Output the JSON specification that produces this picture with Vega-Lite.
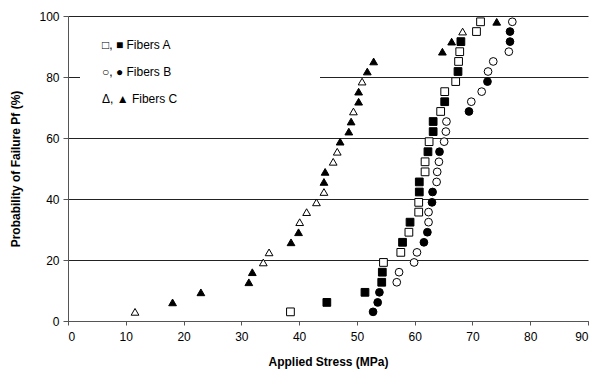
{
  "$schema": "https://vega.github.io/schema/vega-lite/v6.json",
  "width": 520,
  "height": 305,
  "autosize": "none",
  "padding": {"left": 68, "top": 16, "right": 9, "bottom": 56},
  "background": "white",
  "config": {
    "view": {"stroke": null},
    "font": "Liberation Sans",
    "axis": {"labelFont": "Liberation Sans", "titleFont": "Liberation Sans", "labelColor": "black", "titleColor": "black", "labelFontSize": 12, "titleFontSize": 12, "titleFontWeight": "bold", "domainColor": "#555", "tickColor": "#555"}
  },
  "data": {"values": [
    {"fiber":"A","batch":"open","stress":38.5,"prob":3.0},
    {"fiber":"A","batch":"filled","stress":44.8,"prob":6.1},
    {"fiber":"A","batch":"filled","stress":51.4,"prob":9.4},
    {"fiber":"A","batch":"filled","stress":54.3,"prob":12.7},
    {"fiber":"A","batch":"filled","stress":54.4,"prob":16.0},
    {"fiber":"A","batch":"open","stress":54.6,"prob":19.2},
    {"fiber":"A","batch":"open","stress":57.6,"prob":22.5},
    {"fiber":"A","batch":"filled","stress":57.9,"prob":25.8},
    {"fiber":"A","batch":"open","stress":59.0,"prob":29.1},
    {"fiber":"A","batch":"filled","stress":59.2,"prob":32.4},
    {"fiber":"A","batch":"open","stress":60.7,"prob":35.7},
    {"fiber":"A","batch":"open","stress":60.7,"prob":38.9},
    {"fiber":"A","batch":"filled","stress":60.8,"prob":42.3},
    {"fiber":"A","batch":"filled","stress":60.8,"prob":45.6},
    {"fiber":"A","batch":"open","stress":61.8,"prob":48.9},
    {"fiber":"A","batch":"open","stress":61.8,"prob":52.2},
    {"fiber":"A","batch":"filled","stress":62.3,"prob":55.5},
    {"fiber":"A","batch":"open","stress":62.5,"prob":58.8},
    {"fiber":"A","batch":"filled","stress":63.2,"prob":62.1},
    {"fiber":"A","batch":"filled","stress":63.2,"prob":65.4},
    {"fiber":"A","batch":"open","stress":64.5,"prob":68.7},
    {"fiber":"A","batch":"filled","stress":65.2,"prob":71.9},
    {"fiber":"A","batch":"open","stress":65.2,"prob":75.2},
    {"fiber":"A","batch":"open","stress":67.1,"prob":78.5},
    {"fiber":"A","batch":"filled","stress":67.5,"prob":81.8},
    {"fiber":"A","batch":"open","stress":67.6,"prob":85.1},
    {"fiber":"A","batch":"open","stress":67.8,"prob":88.3},
    {"fiber":"A","batch":"filled","stress":68.0,"prob":91.6},
    {"fiber":"A","batch":"open","stress":70.7,"prob":94.9},
    {"fiber":"A","batch":"open","stress":71.4,"prob":98.1},
    {"fiber":"B","batch":"filled","stress":52.8,"prob":3.0},
    {"fiber":"B","batch":"filled","stress":53.6,"prob":6.1},
    {"fiber":"B","batch":"filled","stress":53.9,"prob":9.4},
    {"fiber":"B","batch":"open","stress":56.9,"prob":12.7},
    {"fiber":"B","batch":"open","stress":57.3,"prob":16.0},
    {"fiber":"B","batch":"open","stress":59.9,"prob":19.2},
    {"fiber":"B","batch":"open","stress":60.4,"prob":22.5},
    {"fiber":"B","batch":"filled","stress":61.6,"prob":25.8},
    {"fiber":"B","batch":"filled","stress":62.2,"prob":29.1},
    {"fiber":"B","batch":"open","stress":62.4,"prob":32.4},
    {"fiber":"B","batch":"open","stress":62.4,"prob":35.7},
    {"fiber":"B","batch":"filled","stress":63.0,"prob":38.9},
    {"fiber":"B","batch":"filled","stress":63.1,"prob":42.3},
    {"fiber":"B","batch":"open","stress":63.8,"prob":45.6},
    {"fiber":"B","batch":"open","stress":63.9,"prob":48.9},
    {"fiber":"B","batch":"open","stress":64.2,"prob":52.2},
    {"fiber":"B","batch":"filled","stress":64.3,"prob":55.5},
    {"fiber":"B","batch":"open","stress":65.1,"prob":58.8},
    {"fiber":"B","batch":"open","stress":65.4,"prob":62.1},
    {"fiber":"B","batch":"open","stress":65.5,"prob":65.4},
    {"fiber":"B","batch":"filled","stress":69.4,"prob":68.7},
    {"fiber":"B","batch":"open","stress":69.8,"prob":71.9},
    {"fiber":"B","batch":"open","stress":71.6,"prob":75.2},
    {"fiber":"B","batch":"filled","stress":72.6,"prob":78.5},
    {"fiber":"B","batch":"open","stress":72.7,"prob":81.8},
    {"fiber":"B","batch":"open","stress":73.6,"prob":85.1},
    {"fiber":"B","batch":"open","stress":76.3,"prob":88.3},
    {"fiber":"B","batch":"filled","stress":76.5,"prob":91.6},
    {"fiber":"B","batch":"filled","stress":76.5,"prob":94.9},
    {"fiber":"B","batch":"open","stress":76.9,"prob":98.1},
    {"fiber":"C","batch":"open","stress":11.6,"prob":3.0},
    {"fiber":"C","batch":"filled","stress":18.1,"prob":6.1},
    {"fiber":"C","batch":"filled","stress":23.0,"prob":9.4},
    {"fiber":"C","batch":"filled","stress":31.3,"prob":12.7},
    {"fiber":"C","batch":"filled","stress":31.9,"prob":16.0},
    {"fiber":"C","batch":"open","stress":33.8,"prob":19.2},
    {"fiber":"C","batch":"open","stress":34.8,"prob":22.5},
    {"fiber":"C","batch":"filled","stress":38.6,"prob":25.8},
    {"fiber":"C","batch":"filled","stress":39.9,"prob":29.1},
    {"fiber":"C","batch":"open","stress":40.1,"prob":32.4},
    {"fiber":"C","batch":"open","stress":41.3,"prob":35.7},
    {"fiber":"C","batch":"open","stress":43.0,"prob":38.9},
    {"fiber":"C","batch":"open","stress":44.3,"prob":42.3},
    {"fiber":"C","batch":"filled","stress":44.3,"prob":45.6},
    {"fiber":"C","batch":"filled","stress":44.5,"prob":48.9},
    {"fiber":"C","batch":"open","stress":45.9,"prob":52.2},
    {"fiber":"C","batch":"open","stress":46.6,"prob":55.5},
    {"fiber":"C","batch":"filled","stress":47.1,"prob":58.8},
    {"fiber":"C","batch":"filled","stress":48.6,"prob":62.1},
    {"fiber":"C","batch":"filled","stress":49.0,"prob":65.4},
    {"fiber":"C","batch":"open","stress":49.4,"prob":68.7},
    {"fiber":"C","batch":"filled","stress":50.3,"prob":71.9},
    {"fiber":"C","batch":"filled","stress":50.3,"prob":75.2},
    {"fiber":"C","batch":"open","stress":50.9,"prob":78.5},
    {"fiber":"C","batch":"filled","stress":51.8,"prob":81.8},
    {"fiber":"C","batch":"filled","stress":52.9,"prob":85.1},
    {"fiber":"C","batch":"filled","stress":64.8,"prob":88.3},
    {"fiber":"C","batch":"filled","stress":66.4,"prob":91.6},
    {"fiber":"C","batch":"open","stress":68.3,"prob":94.9},
    {"fiber":"C","batch":"filled","stress":74.2,"prob":98.1}
  ]},
  "mark": {"type": "point", "filled": true, "stroke": "black", "strokeWidth": 1, "opacity": 1},
  "encoding": {
    "x": {"field": "stress", "type": "quantitative", "title": "Applied Stress (MPa)",
      "scale": {"domain": [0, 90], "nice": false, "zero": false},
      "axis": {"values": [0,10,20,30,40,50,60,70,80,90], "grid": false, "tickSize": 4, "labelPadding": 6, "titlePadding": 14}},
    "y": {"field": "prob", "type": "quantitative", "title": "Probability of Failure Pf (%)",
      "scale": {"domain": [0, 100], "nice": false},
      "axis": {"values": [0,20,40,60,80,100], "grid": true, "gridColor": "#222", "gridWidth": 1, "tickSize": 5, "labelPadding": 4, "titlePadding": 16}},
    "shape": {"field": "fiber", "type": "nominal",
      "scale": {"domain": ["A","B","C"], "range": ["square","circle","triangle-up"]},
      "legend": {"orient": "none", "legendX": 12, "legendY": 13, "title": null, "fillColor": "white", "strokeColor": null, "padding": 10, "symbolOpacity": 0, "symbolSize": 0, "symbolStrokeWidth": 0, "labelFontSize": 12, "labelFont": "Liberation Sans", "labelColor": "black", "rowPadding": 15, "labelOffset": 0, "symbolOffset": 0, "labelLimit": 400,
        "labelExpr": "(datum.value == 'A' ? '□, ■   Fibers A' : datum.value == 'B' ? '○, ●   Fibers B' : 'Δ, ▲   Fibers C') + '\u2800\u2800\u2800\u2800\u2800\u2800\u2800\u2800\u2800\u2800\u2800\u2800\u2800\u2800'"}},
    "fill": {"field": "batch", "type": "nominal",
      "scale": {"domain": ["open","filled"], "range": ["white","black"]}, "legend": null},
    "size": {"value": 60}
  }
}
